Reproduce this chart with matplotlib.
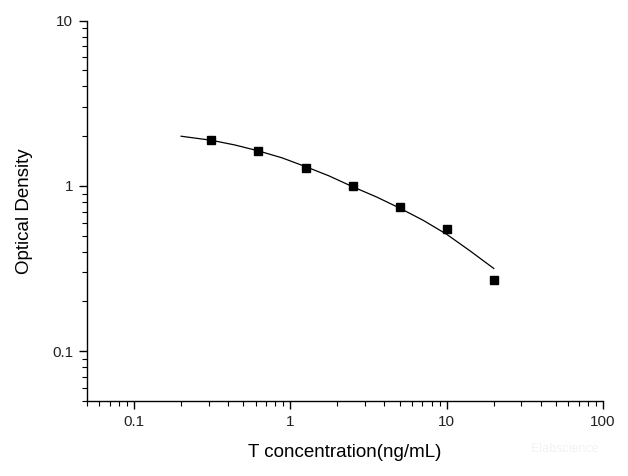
import matplotlib
matplotlib.use("Agg")
import matplotlib.pyplot as plt
from matplotlib.ticker import LogLocator, FuncFormatter, NullFormatter

# Standard points
conc = [0.3125, 0.625, 1.25, 2.5, 5, 10, 20]
od = [1.90, 1.62, 1.29, 1.00, 0.743, 0.547, 0.268]

# Fitted curve
curve_x = [0.2, 0.3125, 0.442, 0.625, 0.884, 1.25, 1.77, 2.5, 3.54, 5, 7.07, 10, 14.1, 20]
curve_y = [2.00, 1.89, 1.77, 1.63, 1.48, 1.31, 1.15, 0.99, 0.86, 0.735, 0.62, 0.51, 0.405, 0.317]

x_label = "T concentration(ng/mL)"
y_label = "Optical Density"
watermark = "Elabscience"

plt.rcParams['font.family'] = ['Liberation Sans', 'DejaVu Sans']

fig = plt.figure(figsize=(6.28, 4.76), dpi=100)
ax = fig.add_axes([87/628, 75/476, 516/628, 380.3/476])

ax.plot(curve_x, curve_y, color='black', linewidth=0.9)
ax.plot(conc, od, linestyle='none', marker='s', markersize=6, color='black')

ax.set_xscale('log')
ax.set_yscale('log')
ax.set_xlim(0.05, 100)
ax.set_ylim(0.05, 10)

for s in ['top', 'right']:
    ax.spines[s].set_visible(False)
for s in ['left', 'bottom']:
    ax.spines[s].set_linewidth(1.0)

ax.xaxis.set_major_locator(LogLocator(base=10, numticks=10))
ax.yaxis.set_major_locator(LogLocator(base=10, numticks=10))
ax.xaxis.set_minor_locator(LogLocator(base=10, subs=range(2, 10), numticks=20))
ax.yaxis.set_minor_locator(LogLocator(base=10, subs=range(2, 10), numticks=20))
fmt = FuncFormatter(lambda v, p: '%g' % v)
ax.xaxis.set_major_formatter(fmt)
ax.yaxis.set_major_formatter(fmt)
ax.xaxis.set_minor_formatter(NullFormatter())
ax.yaxis.set_minor_formatter(NullFormatter())

ax.tick_params(which='major', direction='out', length=6, width=1.0, labelsize=11,
               labelcolor='#222222', pad=4)
ax.tick_params(which='minor', direction='out', length=3.5, width=0.8)

ax.set_xlabel(x_label, fontsize=13.5, labelpad=11)
ax.set_ylabel(y_label, fontsize=13.5, labelpad=14)

fig.text(565/628, 1 - 449/476, watermark, fontsize=9, color='#f2f2f2',
         ha='center', va='center')

fig.savefig('out.png', dpi=100)
